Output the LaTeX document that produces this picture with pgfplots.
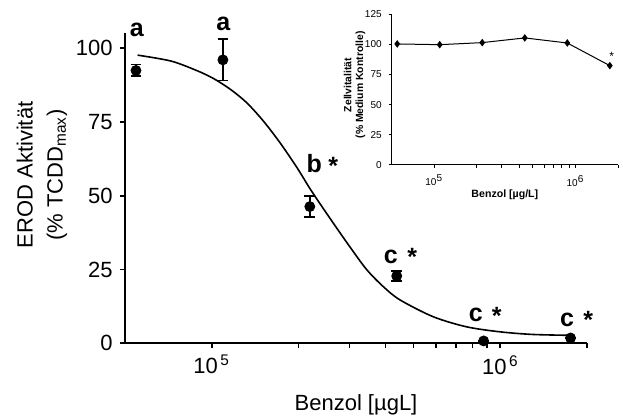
\documentclass[border=0pt]{standalone}
\usepackage{pgfplots}
\pgfplotsset{compat=1.18}
\usepackage{fontspec}
\setmainfont{Liberation Sans}

% EROD data: mean +- error
\pgfplotstableread{
x       y     e
54700   92.4  2.0
109400  96.0  7.0
218800  46.3  3.6
437500  22.8  1.8
875000  0.8   0.0
1750000 1.8   0.0
}\erod

\begin{document}
\begin{tikzpicture}
\begin{axis}[
  at={(0,0)}, anchor=south west,
  width=231.3pt, height=155pt, scale only axis,
  xmode=log, xmin=5e4, xmax=2e6, ymin=0, ymax=105,
  axis x line*=bottom, axis y line*=left,
  axis line style={line width=0.9pt},
  xtick={1e5,1e6}, xticklabels={10\textsuperscript{\,5},10\textsuperscript{\,6}},
  minor xtick={2e5,3e5,4e5,5e5,6e5,7e5,8e5,9e5,2e6},
  ytick={0,25,50,75,100}, yticklabels={0,25,50,75,100},
  tick align=outside, major tick length=2.5pt, minor tick length=2.5pt,
  every tick/.style={line width=0.9pt, black},
  tick label style={font=\fontsize{11}{13}\selectfont},
  clip=false,
]
\addplot[black, line width=0.8pt, smooth, tension=0.5] coordinates {
  (55400,97.6) (72300,95.6) (88700,92.4) (101400,89.7) (115800,86.1)
  (132200,81.5) (151000,75.3) (172600,67.9) (197200,59.6) (222000,51.5)
  (260000,41.6) (301000,32.7) (344000,25.0) (393000,19.2) (449000,14.7)
  (585000,9.0) (762000,5.6) (993000,3.9) (1290000,3.0) (1740000,2.7)
};
\addplot[only marks, mark=*, mark size=2.5pt, black,
  error bars/.cd, y dir=both, y explicit,
  error bar style={line width=0.9pt},
  error mark options={rotate=90, mark size=2.7pt, line width=0.9pt}]
  table[x=x, y=y, y error=e] {\erod};
\begin{scope}[font=\fontsize{12.5}{14}\selectfont\bfseries]
\node at (rel axis cs:0.026,1.012) {a};
\node at (rel axis cs:0.213,1.03) {a};
\node at (rel axis cs:0.4096,0.579) {b};
\node at (rel axis cs:0.451,0.5726) {*};
\node at (rel axis cs:0.5752,0.2784) {c};
\node at (rel axis cs:0.6217,0.2777) {*};
\node at (rel axis cs:0.7588,0.0913) {c};
\node at (rel axis cs:0.804,0.089) {*};
\node at (rel axis cs:0.956,0.075) {c};
\node at (rel axis cs:1.002,0.077) {*};
\end{scope}
\node[rotate=90, align=center, font=\fontsize{11}{15}\selectfont]
  at ([xshift=-41.35pt]rel axis cs:0,0.543) {EROD Aktivität\\(\% TCDD\textsubscript{max})};
\node[font=\fontsize{11}{13}\selectfont]
  at ([yshift=-30.85pt]rel axis cs:0.5,0) {Benzol [µgL]};
\end{axis}

% inset: cell viability
\begin{axis}[
  at={(133.5pt,89.15pt)}, anchor=south west,
  width=113.15pt, height=75.35pt, scale only axis,
  xmode=log, xmin=5e4, xmax=2e6, ymin=0, ymax=125,
  axis x line*=bottom, axis y line*=left,
  axis line style={line width=0.5pt},
  xtick={1e5,1e6}, xticklabels={10\textsuperscript{5},10\textsuperscript{6}},
  minor xtick={2e5,3e5,4e5,5e5,6e5,7e5,8e5,9e5,2e6},
  ytick={0,25,50,75,100,125}, yticklabels={0,25,50,75,100,125},
  tick align=outside, major tick length=1.5pt, minor tick length=1.5pt,
  every tick/.style={line width=0.5pt, black},
  tick label style={font=\fontsize{5}{6}\selectfont},
  clip=false,
]
\addplot[black, line width=0.5pt, mark=diamond*, mark size=1.5pt] coordinates {
  (54700,100.4) (109400,99.8) (218800,101.5) (437500,105.4) (875000,101.2) (1750000,82.4)
};
\node[font=\fontsize{6}{7}\selectfont] at (rel axis cs:0.972,0.719) {*};
\node[rotate=90, align=center, font=\fontsize{5.2}{5.9}\selectfont\bfseries]
  at ([xshift=-18.6pt]rel axis cs:0,0.531) {Zellvitalität\\(\% Medium Kontrolle)};
\node[font=\fontsize{5.3}{6}\selectfont\bfseries]
  at ([yshift=-15pt]rel axis cs:0.5,0) {Benzol [µg/L]};
\end{axis}
\pgfresetboundingbox
\path[use as bounding box] (-62.35pt,-36.35pt) rectangle (249.15pt,171.65pt);
\end{tikzpicture}
\end{document}
